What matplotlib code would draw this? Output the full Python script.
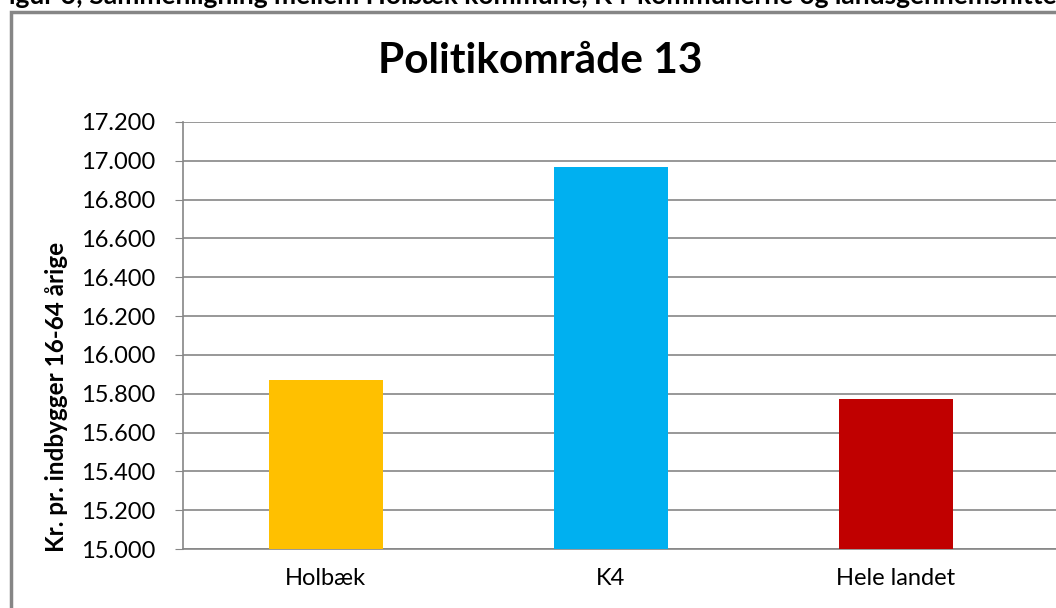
import matplotlib.pyplot as plt
from matplotlib.patches import Rectangle
from matplotlib.ticker import FuncFormatter

plt.rcParams['font.family'] = ['Lato', 'DejaVu Sans']

categories = ["Holbæk", "K4", "Hele landet"]
values = [15870, 16970, 15773]
colors = ["#FFC000", "#00B0F0", "#C00000"]
yticks = [15000, 15200, 15400, 15600, 15800, 16000, 16200, 16400, 16600, 16800, 17000, 17200]

W, H = 1056, 608
fig = plt.figure(figsize=(W / 100, H / 100), dpi=100)

# outer chart frame (cropped at the right and bottom in the source)
fig.patches.append(Rectangle((11 / W, -0.1), 1.2, (H - 12) / H + 0.1, transform=fig.transFigure,
                             fill=False, edgecolor="#868686", linewidth=2.5))

# caption above the chart, cut off at the top like in the source
fig.text(-6 / W, 1 - 4 / H, "Figur 6; Sammenligning mellem Holbæk kommune, K4-kommunerne og landsgennemsnittet",
         fontsize=19, fontweight="bold", ha="left", va="baseline")

ax = fig.add_axes([183 / W, 1 - 549 / H, (W - 183) / W, (549 - 122) / H])
x = list(range(len(categories)))
ax.bar(x, values, width=0.4, color=colors, zorder=3)

ax.set_ylim(15000, 17200)
ax.set_xlim(-0.5, (W - 326) / 285)
ax.set_yticks(yticks)
ax.yaxis.set_major_formatter(FuncFormatter(lambda v, p: f"{v / 1000:.3f}"))
ax.set_xticks(x)
ax.set_xticklabels(categories)
ax.grid(axis="y", color="#868686", linewidth=1.2, zorder=0)
for s in ["top", "right"]:
    ax.spines[s].set_visible(False)
for s in ["left", "bottom"]:
    ax.spines[s].set_color("#868686")
    ax.spines[s].set_linewidth(1.2)
ax.tick_params(axis="y", length=6, color="#868686", labelsize=17, pad=14)
ax.tick_params(axis="x", length=0, labelsize=17, pad=14)

fig.text(56 / W, 1 - 397 / H, "Kr. pr. indbygger 16-64 årige", fontsize=17.5, fontweight="bold",
         rotation=90, ha="center", va="center")
fig.text(540 / W, 1 - 73 / H, "Politikområde 13", fontsize=30.5, fontweight="bold",
         ha="center", va="baseline")

fig.savefig("out.png", dpi=100)
